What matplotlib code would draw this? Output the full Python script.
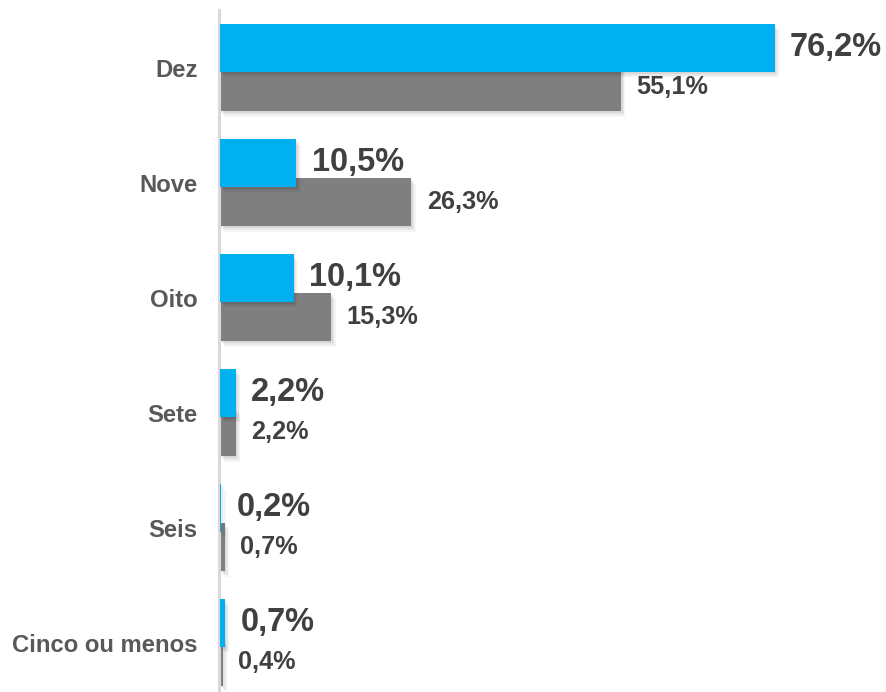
import matplotlib
matplotlib.use("Agg")
import matplotlib.pyplot as plt
import matplotlib.patheffects as pe

categories = ["Dez", "Nove", "Oito", "Sete", "Seis", "Cinco ou menos"]
serie_azul = [76.2, 10.5, 10.1, 2.2, 0.2, 0.7]
serie_cinza = [55.1, 26.3, 15.3, 2.2, 0.7, 0.4]
rotulos_azul = ["76,2%", "10,5%", "10,1%", "2,2%", "0,2%", "0,7%"]
rotulos_cinza = ["55,1%", "26,3%", "15,3%", "2,2%", "0,7%", "0,4%"]

AZUL = "#00B0F0"
CINZA = "#7F7F7F"
TEXTO = "#404040"
TEXTO_CAT = "#595959"

plt.rcParams["font.family"] = ["Liberation Sans", "DejaVu Sans"]

W, H = 886, 692
fig = plt.figure(figsize=(W / 100, H / 100), dpi=100)
left_px, right_px, top_px, bottom_px = 220, 886, 10, 690
ax = fig.add_axes([left_px / W, 1 - bottom_px / H,
                   (right_px - left_px) / W, (bottom_px - top_px) / H])

for s in ["top", "right", "bottom"]:
    ax.spines[s].set_visible(False)
ax.spines["left"].set_color("#D9D9D9")
ax.spines["left"].set_linewidth(2.2)
ax.spines["left"].set_position(("outward", 1))

px_per_unit = 7.28
ax.set_xlim(0, (right_px - left_px) / px_per_unit)
ax.set_ylim(5.413, -0.5)

y = list(range(len(categories)))
h = 0.417
off = 0.17

def sombra():
    return [pe.SimplePatchShadow(offset=(3, -4), shadow_rgbFace="k", alpha=0.04),
            pe.SimplePatchShadow(offset=(2, -3), shadow_rgbFace="k", alpha=0.05),
            pe.SimplePatchShadow(offset=(1, -1.5), shadow_rgbFace="k", alpha=0.07),
            pe.Normal()]

bars_c = ax.barh([v + off for v in y], serie_cinza, height=h, color=CINZA, zorder=2)
bars_a = ax.barh([v - off for v in y], serie_azul, height=h, color=AZUL, zorder=3)
for b in list(bars_c) + list(bars_a):
    b.set_path_effects(sombra())

for i in y:
    ax.annotate(rotulos_azul[i], (serie_azul[i], i - off), xytext=(11, 0),
                textcoords="offset points", va="center", ha="left",
                fontsize=23.5, fontweight="bold", color=TEXTO, zorder=5)
    ax.annotate(rotulos_cinza[i], (serie_cinza[i], i + off), xytext=(11, 0),
                textcoords="offset points", va="center", ha="left",
                fontsize=18.2, fontweight="bold", color=TEXTO, zorder=5)

ax.set_yticks(y)
ax.set_yticklabels(categories)
ax.tick_params(axis="y", length=0, pad=15, labelsize=17.2, labelcolor=TEXTO_CAT)
for lbl in ax.get_yticklabels():
    lbl.set_fontweight("bold")
ax.set_xticks([])

fig.savefig("out.png", dpi=100, facecolor="white")
